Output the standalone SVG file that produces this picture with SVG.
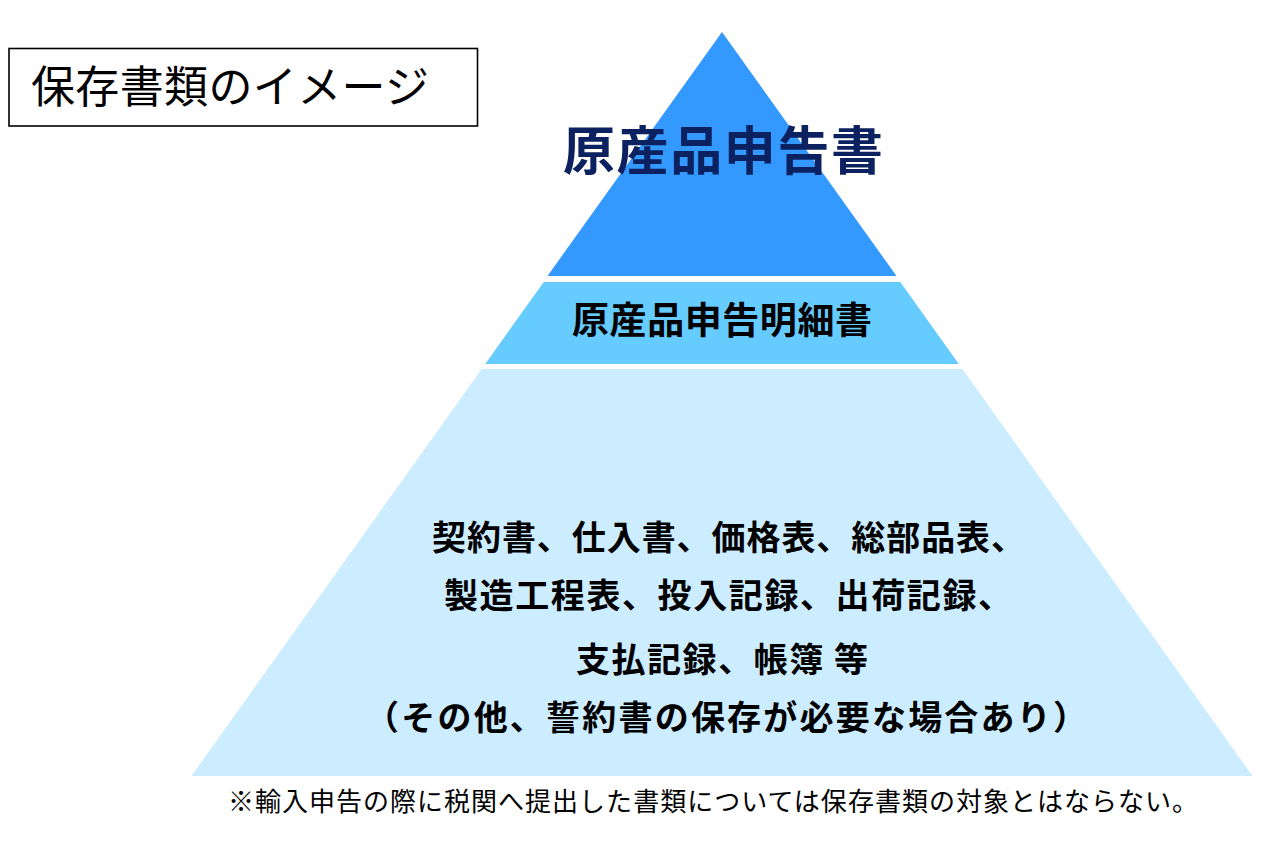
<svg xmlns="http://www.w3.org/2000/svg" width="1273" height="866" viewBox="0 0 1273 866">
  <style>
    .jp { font-family: "Noto Sans CJK JP", "Noto Sans", sans-serif; }
    .bold { font-weight: 700; }
    .lvl { fill: #000000; font-size: 34px; }
  </style>
  <rect x="0" y="0" width="1273" height="866" fill="#ffffff"/>
  <g id="title">
    <rect x="9" y="48.5" width="468.5" height="77.5" fill="#ffffff" stroke="#000000" stroke-width="1.6"/>
    <text class="jp" x="31" y="103" font-size="44" fill="#000000" textLength="398" lengthAdjust="spacing">保存書類のイメージ</text>
  </g>
  <g id="level-top">
    <polygon points="722,32 896.5,276 547.5,276" fill="#3399FF"/>
    <text class="jp bold" x="563" y="170" font-size="52" fill="#0C2260" textLength="320" lengthAdjust="spacing">原産品申告書</text>
  </g>
  <g id="level-middle">
    <polygon points="543.7,282 900.3,282 958.8,364 485.2,364" fill="#66CCFF"/>
    <text class="jp bold" x="572" y="334" font-size="37" fill="#000000" textLength="300" lengthAdjust="spacing">原産品申告明細書</text>
  </g>
  <g id="level-bottom">
    <polygon points="481.7,369 962.3,369 1252.5,776 191.5,776" fill="#CCECFF"/>
    <text class="jp bold lvl" x="432" y="550" textLength="593" lengthAdjust="spacing">契約書、仕入書、価格表、総部品表、</text>
    <text class="jp bold lvl" x="444" y="608" textLength="568" lengthAdjust="spacing">製造工程表、投入記録、出荷記録、</text>
    <text class="jp bold lvl" x="576" y="672" textLength="292" lengthAdjust="spacing">支払記録、帳簿 等</text>
    <text class="jp bold lvl" x="365" y="730" textLength="722" lengthAdjust="spacing">（その他、誓約書の保存が必要な場合あり）</text>
  </g>
  <g id="footnote">
    <text class="jp" x="228" y="811" font-size="26" fill="#000000" textLength="970" lengthAdjust="spacing">※輸入申告の際に税関へ提出した書類については保存書類の対象とはならない。</text>
  </g>
</svg>
